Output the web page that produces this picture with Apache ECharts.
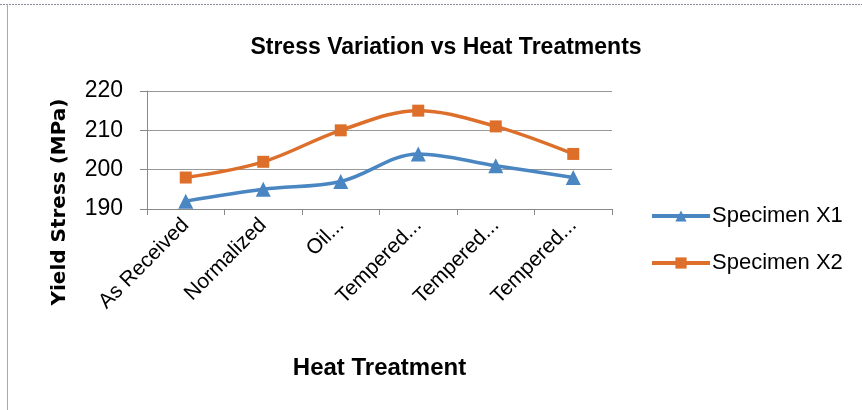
<!DOCTYPE html>
<html><head><meta charset="utf-8">
<script src="https://cdn.jsdelivr.net/npm/echarts@6/dist/echarts.min.js"></script>
<style>html,body{margin:0;padding:0;background:#fff}#c{width:862px;height:410px}</style>
</head><body><div id="c"></div>
<script>
const categories = ["As Received", "Normalized", "Oil...", "Tempered...", "Tempered...", "Tempered..."];
const specimenX1 = [192, 195, 197, 204, 201, 198];
const specimenX2 = [198, 202, 210, 215, 211, 204];
const yTicks = [190, 200, 210, 220];
const yAxisTitle = 'Yield Stress (MPa)';

const font = '"Liberation Sans", Arial, sans-serif';
const chart = echarts.init(document.getElementById('c'));
chart.setOption({
  animation: false,
  backgroundColor: '#fff',
  title: {
    text: 'Stress Variation vs Heat Treatments',
    left: 441, top: 31, textAlign: 'center',
    textStyle: {fontFamily: font, fontWeight: 'bold', fontSize: 23, color: '#000'}
  },
  legend: {
    orient: 'vertical', left: 645, top: 200, itemGap: 25,
    itemWidth: 58, itemHeight: 14,
    lineStyle: {width: 4},
    textStyle: {fontFamily: font, fontSize: 22, color: '#000', padding: [0,0,0,-3]},
    data: ['Specimen X1', 'Specimen X2']
  },
  grid: {left: 147, right: 250, top: 91, bottom: 201},
  xAxis: {
    type: 'category', data: categories, boundaryGap: true,
    name: 'Heat Treatment', nameLocation: 'middle', nameGap: 147,
    nameTextStyle: {fontFamily: font, fontWeight: 'bold', fontSize: 24, color: '#000'},
    axisLine: {lineStyle: {color: '#888', width: 1}},
    axisTick: {show: true, length: 6, lineStyle: {color: '#888'}},
    axisLabel: {rotate: 45, fontFamily: font, fontSize: 21, color: '#000', margin: 13, interval: 0}
  },
  yAxis: {
    type: 'value', min: 190, max: 220, interval: 10,
    axisLine: {show: true, lineStyle: {color: '#888'}},
    axisTick: {show: true, length: 7, lineStyle: {color: '#888'}},
    splitLine: {lineStyle: {color: '#999', width: 1}},
    axisLabel: {fontFamily: font, fontSize: 23, color: '#000', margin: 24,
      formatter: v => yTicks.includes(v) ? String(v) : ''}
  },
  series: [
    {name: 'Specimen X1', type: 'line', data: specimenX1, smooth: 0.35,
     symbol: 'triangle', symbolSize: 15, color: '#4A86C1',
     lineStyle: {width: 3.5}, itemStyle: {color: '#4A86C1'}},
    {name: 'Specimen X2', type: 'line', data: specimenX2, smooth: 0.35,
     symbol: 'rect', symbolSize: 12, color: '#DD6F2A',
     lineStyle: {width: 3.5}, itemStyle: {color: '#DD6F2A'}}
  ],
  graphic: [
    {type: 'line', shape: {x1: 0, y1: 4.5, x2: 862, y2: 4.5}, style: {stroke: '#8a8a9a', lineWidth: 1, lineDash: [2,1]}},
    {type: 'line', shape: {x1: 7.5, y1: 4, x2: 7.5, y2: 410}, style: {stroke: '#aaa', lineWidth: 1}},
    {type: 'text', x: 60, y: 202, rotation: Math.PI / 2,
     style: {text: yAxisTitle, fontFamily: '"DejaVu Sans", sans-serif', fontWeight: 'bold', fontSize: 20,
             fill: '#000', align: 'center', verticalAlign: 'middle'}}
  ]
});
</script></body></html>
